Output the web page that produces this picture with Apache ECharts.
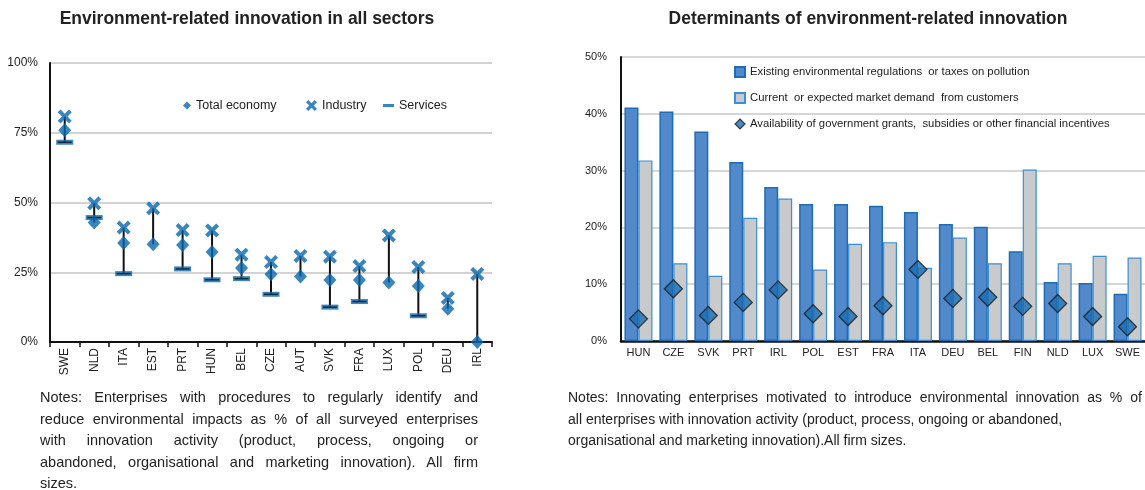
<!DOCTYPE html>
<html>
<head>
<meta charset="utf-8">
<script src="https://cdn.jsdelivr.net/npm/echarts@6/dist/echarts.min.js"></script>
<style>
html,body{margin:0;padding:0;background:#fff;overflow:hidden;}
#chart{position:absolute;left:0;top:0;width:1145px;height:490px;}
.notes{position:absolute;font-family:'Liberation Sans',Arial,sans-serif;color:#222;white-space:nowrap;}
.notes div{height:21.5px;line-height:21.5px;}
.just div{text-align:justify;text-align-last:justify;}
.just div.last{text-align-last:left;}
</style>
</head>
<body>
<div id="chart"></div>
<div class="notes just" style="left:40px;top:387px;width:438px;font-size:14.5px;">
<div>Notes: Enterprises with procedures to regularly identify and</div>
<div>reduce environmental impacts as % of all surveyed enterprises</div>
<div>with innovation activity (product, process, ongoing or</div>
<div>abandoned, organisational and marketing innovation). All firm</div>
<div class="last">sizes.</div>
</div>
<div class="notes" style="left:568px;top:387px;font-size:14px;">
<div style="word-spacing:4px;">Notes: Innovating enterprises motivated to introduce environmental innovation as % of</div>
<div>all enterprises with innovation activity (product, process, ongoing or abandoned,</div>
<div>organisational and marketing innovation).All firm sizes.</div>
</div>
<script>
// ---- Left chart data ----
const leftCategories = ['SWE','NLD','ITA','EST','PRT','HUN','BEL','CZE','AUT','SVK','FRA','LUX','POL','DEU','IRL'];
const totalEconomy = [75.9,42.8,35.5,35.0,34.8,32.3,26.5,24.3,23.5,22.2,22.2,21.3,20.1,11.9,0];
const industry     = [80.8,49.7,41.0,47.9,40.1,40.0,31.3,28.7,30.8,30.6,27.2,38.2,26.9,15.8,24.4];
const services     = [71.6,44.6,24.5,null,26.2,22.3,22.7,17.1,null,12.5,14.5,null,9.4,null,null];
const leftTicks = [0,25,50,75,100];

// ---- Right chart data ----
const rightCategories = ['HUN','CZE','SVK','PRT','IRL','POL','EST','FRA','ITA','DEU','BEL','FIN','NLD','LUX','SWE'];
const regulations = [41.1,40.4,36.9,31.5,27.1,24.1,24.1,23.8,22.7,20.6,20.1,15.8,10.4,10.2,8.3];
const demand      = [31.8,13.7,11.5,21.7,25.1,12.6,17.1,17.4,12.9,18.2,13.7,30.2,13.7,15.0,14.7];
const grants      = [3.9,9.2,4.5,6.8,9.0,4.8,4.3,6.2,12.6,7.5,7.7,6.1,6.6,4.3,2.5];
const rightTicks = [0,10,20,30,40,50];

const REG = "'Liberation Sans',Arial,sans-serif";
const BLUE = '#0867ae';
const XPATH = 'path://M0,2L2,0L5,3L8,0L10,2L7,5L10,8L8,10L5,7L2,10L0,8L3,5Z';

// high-low line data derived from the series values
const hiLo = leftCategories.map((c, i) => {
  const vals = [totalEconomy[i], industry[i], services[i]].filter(v => v !== null);
  return [i, Math.min(...vals), Math.max(...vals)];
});

const chart = echarts.init(document.getElementById('chart'), null, {renderer: 'canvas'});
chart.setOption({
  animation: false,
  backgroundColor: '#fff',
  graphic: [
    {type: 'text', x: 247, y: 19, scaleX: 0.944, style: {text: 'Environment-related innovation in all sectors', align: 'center', verticalAlign: 'middle', font: "bold 18.5px " + REG, fill: '#222'}},
    {type: 'text', x: 868, y: 19, scaleX: 0.944, style: {text: 'Determinants of environment-related innovation', align: 'center', verticalAlign: 'middle', font: "bold 18.5px " + REG, fill: '#222'}}
  ],
  legend: [
    {left: 178, top: 94, itemWidth: 8, itemHeight: 8, selectedMode: false, textStyle: {fontFamily: REG, fontSize: 12.5, color: '#222'},
     data: [{name: 'Total economy', icon: 'diamond'}]},
    {left: 301, top: 94, itemWidth: 11, itemHeight: 11, selectedMode: false, textStyle: {fontFamily: REG, fontSize: 12.5, color: '#222'},
     data: [{name: 'Industry', icon: XPATH}]},
    {left: 378, top: 94, itemWidth: 11, itemHeight: 3, selectedMode: false, textStyle: {fontFamily: REG, fontSize: 12.5, color: '#222'},
     data: [{name: 'Services', icon: 'rect'}]},
    {left: 729, top: 60, orient: 'vertical', itemWidth: 10, itemHeight: 10, itemGap: 12, selectedMode: false,
     textStyle: {fontFamily: REG, fontSize: 11.3, color: '#222', lineHeight: 14},
     data: [{name: 'Existing environmental regulations  or taxes on pollution', icon: 'rect'},
            {name: 'Current  or expected market demand  from customers', icon: 'rect'},
            {name: 'Availability of government grants,  subsidies or other financial incentives', icon: 'diamond', itemStyle: {borderWidth: 1.2}}]}
  ],
  grid: [
    {left: 50, right: 653, top: 63, bottom: 148},
    {left: 621, right: -16, top: 57, bottom: 149}
  ],
  xAxis: [
    {gridIndex: 0, type: 'category', data: leftCategories, boundaryGap: true,
     axisLine: {lineStyle: {color: '#111', width: 2}},
     axisTick: {show: true, length: 5, lineStyle: {color: '#111', width: 1.5}},
     axisLabel: {rotate: 90, margin: 6, interval: 0, fontFamily: REG, fontSize: 12, color: '#222'}},
    {gridIndex: 1, type: 'category', data: rightCategories, boundaryGap: true,
     axisLine: {lineStyle: {color: '#111', width: 2.5}},
     axisTick: {show: false},
     axisLabel: {margin: 6, interval: 0, fontFamily: REG, fontSize: 11, color: '#222'}}
  ],
  yAxis: [
    {gridIndex: 0, type: 'value', min: leftTicks[0], max: leftTicks[leftTicks.length-1], interval: 25,
     axisLine: {show: true, lineStyle: {color: '#111', width: 2}},
     axisTick: {show: false},
     splitLine: {lineStyle: {color: '#c4c4c4', width: 1.5}},
     axisLabel: {formatter: '{value}%', margin: 12, fontFamily: REG, fontSize: 12, color: '#222'}},
    {gridIndex: 1, type: 'value', min: rightTicks[0], max: rightTicks[rightTicks.length-1], interval: 10,
     axisLine: {show: true, lineStyle: {color: '#111', width: 2}},
     axisTick: {show: false},
     splitLine: {lineStyle: {color: '#c8c8c8', width: 1.5}},
     axisLabel: {formatter: '{value}%', margin: 14, fontFamily: REG, fontSize: 11, color: '#222'}}
  ],
  series: [
    {name: 'hilo', type: 'custom', xAxisIndex: 0, yAxisIndex: 0, z: 1, data: hiLo,
     renderItem: function (params, api) {
       const lo = api.coord([api.value(0), api.value(1)]);
       const hi = api.coord([api.value(0), api.value(2)]);
       return {type: 'line', shape: {x1: lo[0], y1: lo[1], x2: hi[0], y2: hi[1]}, style: {stroke: '#111', lineWidth: 2}};
     }},
    {name: 'Services', type: 'scatter', xAxisIndex: 0, yAxisIndex: 0, z: 2, symbol: 'rect', symbolSize: [17, 5],
     itemStyle: {color: BLUE}, data: services},
    {name: 'Services cap', type: 'scatter', xAxisIndex: 0, yAxisIndex: 0, z: 3, symbol: 'rect', symbolSize: [14, 1.5],
     itemStyle: {color: '#111'}, data: services, silent: true},
    {name: 'Total economy', type: 'scatter', xAxisIndex: 0, yAxisIndex: 0, z: 4, symbol: 'diamond', symbolSize: [13, 14],
     itemStyle: {color: BLUE}, data: totalEconomy},
    {name: 'Industry', type: 'scatter', xAxisIndex: 0, yAxisIndex: 0, z: 5, symbol: XPATH, symbolSize: 14,
     itemStyle: {color: BLUE}, data: industry},

    {name: 'Existing environmental regulations  or taxes on pollution', type: 'bar', xAxisIndex: 1, yAxisIndex: 1,
     barWidth: 14, barGap: '0%', itemStyle: {color: '#5189cb', borderColor: '#1d6cb5', borderWidth: 1.5}, data: regulations},
    {name: 'Current  or expected market demand  from customers', type: 'bar', xAxisIndex: 1, yAxisIndex: 1,
     barWidth: 14, barGap: '0%', itemStyle: {color: '#c9cacc', borderColor: '#3a8fd6', borderWidth: 1.2}, data: demand},
    {name: 'Availability of government grants,  subsidies or other financial incentives', type: 'scatter', xAxisIndex: 1, yAxisIndex: 1, z: 5,
     symbol: 'diamond', symbolSize: 18, itemStyle: {color: '#1a6db3', borderColor: '#1b1b1b', borderWidth: 1.3}, data: grants}
  ]
});
</script>
</body>
</html>
